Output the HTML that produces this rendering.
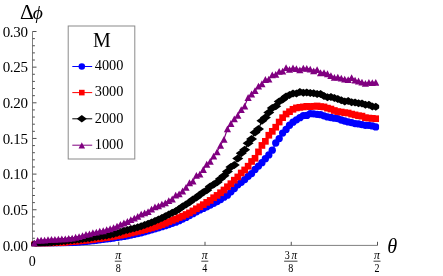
<!DOCTYPE html>
<html><head><meta charset="utf-8"><title>Chart</title>
<style>html,body{margin:0;padding:0;background:#fff;width:443px;height:276px;overflow:hidden;font-family:"Liberation Serif",serif}</style>
</head><body>
<svg width="443" height="276" viewBox="0 0 443 276" style="position:absolute;left:0;top:0;will-change:transform">
<rect width="443" height="276" fill="#fff"/>
<path d="M32.5 31.5V245.4H377.5" fill="none" stroke="#808080" stroke-width="1"/><path d="M32.5 245.40h4.0M32.5 238.27h2.4M32.5 231.14h2.4M32.5 224.01h2.4M32.5 216.88h2.4M32.5 209.75h4.0M32.5 202.62h2.4M32.5 195.49h2.4M32.5 188.36h2.4M32.5 181.23h2.4M32.5 174.10h4.0M32.5 166.97h2.4M32.5 159.84h2.4M32.5 152.71h2.4M32.5 145.58h2.4M32.5 138.45h4.0M32.5 131.32h2.4M32.5 124.19h2.4M32.5 117.06h2.4M32.5 109.93h2.4M32.5 102.80h4.0M32.5 95.67h2.4M32.5 88.54h2.4M32.5 81.41h2.4M32.5 74.28h2.4M32.5 67.15h4.0M32.5 60.02h2.4M32.5 52.89h2.4M32.5 45.76h2.4M32.5 38.63h2.4M32.5 31.50h4.0M118.75 245.4v-3.6M205.00 245.4v-3.6M291.25 245.4v-3.6M377.50 245.4v-3.6" fill="none" stroke="#505050" stroke-width="1"/>
<defs><clipPath id="pc"><rect x="31.3" y="20" width="347.9" height="226.3"/></clipPath></defs><g clip-path="url(#pc)"><g fill="#0000ff" stroke="none"><polyline points="34.23,244.95 37.67,244.68 41.12,244.45 44.58,244.16 48.02,244.01 51.48,243.80 54.92,243.62 58.38,243.40 61.83,243.23 65.28,243.00 68.72,242.74 72.17,242.57 75.62,242.31 79.08,242.07 82.53,241.71 85.97,241.38 89.42,241.04 92.88,240.64 96.33,240.33 99.78,239.82 103.22,239.37 106.67,238.93 110.12,238.52 113.58,237.99 117.03,237.46 120.47,236.96 123.92,236.44 127.38,235.79 130.82,235.08 134.28,234.34 137.72,233.58 141.18,232.78 144.62,231.76 148.07,230.83 151.53,229.82 154.97,228.73 158.43,227.74 161.88,226.69 165.32,225.71 168.78,224.54 172.22,223.28 175.68,222.14 179.12,220.72 182.57,219.08 186.03,217.41 189.47,215.56 192.93,213.65 196.38,211.86 199.82,209.90 203.28,208.38 206.72,206.83 210.18,205.12 213.62,203.35 217.07,201.49 220.53,199.62 223.97,197.21 227.43,195.16 230.88,191.78 234.32,188.58 237.78,184.77 241.22,182.33 244.68,179.58 248.12,176.31 251.57,173.54 255.03,169.38 258.48,166.06 261.93,162.63 265.38,158.65 268.82,154.92 272.27,150.17 275.73,143.02 279.18,138.61 282.62,133.04 286.07,129.43 289.52,125.26 292.98,122.21 296.43,119.78 299.88,117.64 303.32,115.60 306.77,115.39 310.23,113.72 313.68,113.87 317.12,114.34 320.57,114.68 324.02,115.84 327.48,116.95 330.93,117.51 334.38,118.21 337.82,118.55 341.27,120.00 344.73,121.00 348.18,121.89 351.62,122.55 355.07,123.60 358.52,123.94 361.98,124.62 365.43,125.34 368.88,125.37 372.32,125.93 375.77,126.97" fill="none" stroke="#0000ff" stroke-width="1.2"/><circle cx="34.23" cy="244.95" r="3.65"/><circle cx="37.67" cy="244.68" r="3.65"/><circle cx="41.12" cy="244.45" r="3.65"/><circle cx="44.58" cy="244.16" r="3.65"/><circle cx="48.02" cy="244.01" r="3.65"/><circle cx="51.48" cy="243.80" r="3.65"/><circle cx="54.92" cy="243.62" r="3.65"/><circle cx="58.38" cy="243.40" r="3.65"/><circle cx="61.83" cy="243.23" r="3.65"/><circle cx="65.28" cy="243.00" r="3.65"/><circle cx="68.72" cy="242.74" r="3.65"/><circle cx="72.17" cy="242.57" r="3.65"/><circle cx="75.62" cy="242.31" r="3.65"/><circle cx="79.08" cy="242.07" r="3.65"/><circle cx="82.53" cy="241.71" r="3.65"/><circle cx="85.97" cy="241.38" r="3.65"/><circle cx="89.42" cy="241.04" r="3.65"/><circle cx="92.88" cy="240.64" r="3.65"/><circle cx="96.33" cy="240.33" r="3.65"/><circle cx="99.78" cy="239.82" r="3.65"/><circle cx="103.22" cy="239.37" r="3.65"/><circle cx="106.67" cy="238.93" r="3.65"/><circle cx="110.12" cy="238.52" r="3.65"/><circle cx="113.58" cy="237.99" r="3.65"/><circle cx="117.03" cy="237.46" r="3.65"/><circle cx="120.47" cy="236.96" r="3.65"/><circle cx="123.92" cy="236.44" r="3.65"/><circle cx="127.38" cy="235.79" r="3.65"/><circle cx="130.82" cy="235.08" r="3.65"/><circle cx="134.28" cy="234.34" r="3.65"/><circle cx="137.72" cy="233.58" r="3.65"/><circle cx="141.18" cy="232.78" r="3.65"/><circle cx="144.62" cy="231.76" r="3.65"/><circle cx="148.07" cy="230.83" r="3.65"/><circle cx="151.53" cy="229.82" r="3.65"/><circle cx="154.97" cy="228.73" r="3.65"/><circle cx="158.43" cy="227.74" r="3.65"/><circle cx="161.88" cy="226.69" r="3.65"/><circle cx="165.32" cy="225.71" r="3.65"/><circle cx="168.78" cy="224.54" r="3.65"/><circle cx="172.22" cy="223.28" r="3.65"/><circle cx="175.68" cy="222.14" r="3.65"/><circle cx="179.12" cy="220.72" r="3.65"/><circle cx="182.57" cy="219.08" r="3.65"/><circle cx="186.03" cy="217.41" r="3.65"/><circle cx="189.47" cy="215.56" r="3.65"/><circle cx="192.93" cy="213.65" r="3.65"/><circle cx="196.38" cy="211.86" r="3.65"/><circle cx="199.82" cy="209.90" r="3.65"/><circle cx="203.28" cy="208.38" r="3.65"/><circle cx="206.72" cy="206.83" r="3.65"/><circle cx="210.18" cy="205.12" r="3.65"/><circle cx="213.62" cy="203.35" r="3.65"/><circle cx="217.07" cy="201.49" r="3.65"/><circle cx="220.53" cy="199.62" r="3.65"/><circle cx="223.97" cy="197.21" r="3.65"/><circle cx="227.43" cy="195.16" r="3.65"/><circle cx="230.88" cy="191.78" r="3.65"/><circle cx="234.32" cy="188.58" r="3.65"/><circle cx="237.78" cy="184.77" r="3.65"/><circle cx="241.22" cy="182.33" r="3.65"/><circle cx="244.68" cy="179.58" r="3.65"/><circle cx="248.12" cy="176.31" r="3.65"/><circle cx="251.57" cy="173.54" r="3.65"/><circle cx="255.03" cy="169.38" r="3.65"/><circle cx="258.48" cy="166.06" r="3.65"/><circle cx="261.93" cy="162.63" r="3.65"/><circle cx="265.38" cy="158.65" r="3.65"/><circle cx="268.82" cy="154.92" r="3.65"/><circle cx="272.27" cy="150.17" r="3.65"/><circle cx="275.73" cy="143.02" r="3.65"/><circle cx="279.18" cy="138.61" r="3.65"/><circle cx="282.62" cy="133.04" r="3.65"/><circle cx="286.07" cy="129.43" r="3.65"/><circle cx="289.52" cy="125.26" r="3.65"/><circle cx="292.98" cy="122.21" r="3.65"/><circle cx="296.43" cy="119.78" r="3.65"/><circle cx="299.88" cy="117.64" r="3.65"/><circle cx="303.32" cy="115.60" r="3.65"/><circle cx="306.77" cy="115.39" r="3.65"/><circle cx="310.23" cy="113.72" r="3.65"/><circle cx="313.68" cy="113.87" r="3.65"/><circle cx="317.12" cy="114.34" r="3.65"/><circle cx="320.57" cy="114.68" r="3.65"/><circle cx="324.02" cy="115.84" r="3.65"/><circle cx="327.48" cy="116.95" r="3.65"/><circle cx="330.93" cy="117.51" r="3.65"/><circle cx="334.38" cy="118.21" r="3.65"/><circle cx="337.82" cy="118.55" r="3.65"/><circle cx="341.27" cy="120.00" r="3.65"/><circle cx="344.73" cy="121.00" r="3.65"/><circle cx="348.18" cy="121.89" r="3.65"/><circle cx="351.62" cy="122.55" r="3.65"/><circle cx="355.07" cy="123.60" r="3.65"/><circle cx="358.52" cy="123.94" r="3.65"/><circle cx="361.98" cy="124.62" r="3.65"/><circle cx="365.43" cy="125.34" r="3.65"/><circle cx="368.88" cy="125.37" r="3.65"/><circle cx="372.32" cy="125.93" r="3.65"/><circle cx="375.77" cy="126.97" r="3.65"/></g><g fill="#ff0000" stroke="none"><polyline points="34.23,244.78 37.67,244.39 41.12,244.13 44.58,243.86 48.02,243.60 51.48,243.28 54.92,242.99 58.38,242.72 61.83,242.50 65.28,242.21 68.72,241.89 72.17,241.60 75.62,241.27 79.08,240.99 82.53,240.59 85.97,240.27 89.42,239.90 92.88,239.47 96.33,238.98 99.78,238.59 103.22,238.02 106.67,237.54 110.12,236.96 113.58,236.37 117.03,235.85 120.47,235.23 123.92,234.55 127.38,233.85 130.82,233.03 134.28,232.20 137.72,231.36 141.18,230.58 144.62,229.70 148.07,228.79 151.53,227.93 154.97,226.90 158.43,225.79 161.88,224.63 165.32,223.24 168.78,221.78 172.22,220.38 175.68,218.99 179.12,217.55 182.57,216.18 186.03,214.51 189.47,212.89 192.93,210.91 196.38,208.78 199.82,206.80 203.28,204.68 206.72,202.38 210.18,200.43 213.62,197.71 217.07,195.40 220.53,192.72 223.97,189.98 227.43,186.74 230.88,183.69 234.32,180.18 237.78,176.94 241.22,172.99 244.68,169.94 248.12,166.21 251.57,161.46 255.03,158.29 258.48,151.89 261.93,145.44 265.38,141.33 268.82,135.23 272.27,131.35 275.73,127.21 279.18,122.04 282.62,117.66 286.07,114.02 289.52,111.68 292.98,109.30 296.43,107.90 299.88,107.31 303.32,106.91 306.77,106.35 310.23,106.62 313.68,106.31 317.12,105.99 320.57,106.63 324.02,106.92 327.48,108.13 330.93,109.06 334.38,110.51 337.82,111.61 341.27,112.03 344.73,112.70 348.18,113.03 351.62,114.09 355.07,114.90 358.52,115.72 361.98,116.13 365.43,117.69 368.88,118.11 372.32,118.34 375.77,118.72" fill="none" stroke="#ff0000" stroke-width="1.2"/><rect x="30.88" y="241.43" width="6.7" height="6.7"/><rect x="34.32" y="241.04" width="6.7" height="6.7"/><rect x="37.77" y="240.78" width="6.7" height="6.7"/><rect x="41.23" y="240.51" width="6.7" height="6.7"/><rect x="44.67" y="240.25" width="6.7" height="6.7"/><rect x="48.12" y="239.93" width="6.7" height="6.7"/><rect x="51.57" y="239.64" width="6.7" height="6.7"/><rect x="55.02" y="239.37" width="6.7" height="6.7"/><rect x="58.48" y="239.15" width="6.7" height="6.7"/><rect x="61.93" y="238.86" width="6.7" height="6.7"/><rect x="65.38" y="238.54" width="6.7" height="6.7"/><rect x="68.83" y="238.25" width="6.7" height="6.7"/><rect x="72.28" y="237.92" width="6.7" height="6.7"/><rect x="75.73" y="237.64" width="6.7" height="6.7"/><rect x="79.18" y="237.24" width="6.7" height="6.7"/><rect x="82.62" y="236.92" width="6.7" height="6.7"/><rect x="86.08" y="236.55" width="6.7" height="6.7"/><rect x="89.53" y="236.12" width="6.7" height="6.7"/><rect x="92.98" y="235.63" width="6.7" height="6.7"/><rect x="96.43" y="235.24" width="6.7" height="6.7"/><rect x="99.88" y="234.67" width="6.7" height="6.7"/><rect x="103.33" y="234.19" width="6.7" height="6.7"/><rect x="106.78" y="233.61" width="6.7" height="6.7"/><rect x="110.23" y="233.02" width="6.7" height="6.7"/><rect x="113.68" y="232.50" width="6.7" height="6.7"/><rect x="117.12" y="231.88" width="6.7" height="6.7"/><rect x="120.58" y="231.20" width="6.7" height="6.7"/><rect x="124.03" y="230.50" width="6.7" height="6.7"/><rect x="127.47" y="229.68" width="6.7" height="6.7"/><rect x="130.93" y="228.85" width="6.7" height="6.7"/><rect x="134.38" y="228.01" width="6.7" height="6.7"/><rect x="137.83" y="227.23" width="6.7" height="6.7"/><rect x="141.28" y="226.35" width="6.7" height="6.7"/><rect x="144.72" y="225.44" width="6.7" height="6.7"/><rect x="148.18" y="224.58" width="6.7" height="6.7"/><rect x="151.62" y="223.55" width="6.7" height="6.7"/><rect x="155.08" y="222.44" width="6.7" height="6.7"/><rect x="158.53" y="221.28" width="6.7" height="6.7"/><rect x="161.97" y="219.89" width="6.7" height="6.7"/><rect x="165.43" y="218.43" width="6.7" height="6.7"/><rect x="168.88" y="217.03" width="6.7" height="6.7"/><rect x="172.33" y="215.64" width="6.7" height="6.7"/><rect x="175.78" y="214.20" width="6.7" height="6.7"/><rect x="179.22" y="212.83" width="6.7" height="6.7"/><rect x="182.68" y="211.16" width="6.7" height="6.7"/><rect x="186.12" y="209.54" width="6.7" height="6.7"/><rect x="189.58" y="207.56" width="6.7" height="6.7"/><rect x="193.03" y="205.43" width="6.7" height="6.7"/><rect x="196.47" y="203.45" width="6.7" height="6.7"/><rect x="199.93" y="201.33" width="6.7" height="6.7"/><rect x="203.38" y="199.03" width="6.7" height="6.7"/><rect x="206.83" y="197.08" width="6.7" height="6.7"/><rect x="210.28" y="194.36" width="6.7" height="6.7"/><rect x="213.72" y="192.05" width="6.7" height="6.7"/><rect x="217.18" y="189.37" width="6.7" height="6.7"/><rect x="220.62" y="186.63" width="6.7" height="6.7"/><rect x="224.08" y="183.39" width="6.7" height="6.7"/><rect x="227.53" y="180.34" width="6.7" height="6.7"/><rect x="230.97" y="176.83" width="6.7" height="6.7"/><rect x="234.43" y="173.59" width="6.7" height="6.7"/><rect x="237.88" y="169.64" width="6.7" height="6.7"/><rect x="241.33" y="166.59" width="6.7" height="6.7"/><rect x="244.78" y="162.86" width="6.7" height="6.7"/><rect x="248.22" y="158.11" width="6.7" height="6.7"/><rect x="251.68" y="154.94" width="6.7" height="6.7"/><rect x="255.13" y="148.54" width="6.7" height="6.7"/><rect x="258.57" y="142.09" width="6.7" height="6.7"/><rect x="262.02" y="137.98" width="6.7" height="6.7"/><rect x="265.47" y="131.88" width="6.7" height="6.7"/><rect x="268.92" y="128.00" width="6.7" height="6.7"/><rect x="272.38" y="123.86" width="6.7" height="6.7"/><rect x="275.82" y="118.69" width="6.7" height="6.7"/><rect x="279.27" y="114.31" width="6.7" height="6.7"/><rect x="282.72" y="110.67" width="6.7" height="6.7"/><rect x="286.17" y="108.33" width="6.7" height="6.7"/><rect x="289.62" y="105.95" width="6.7" height="6.7"/><rect x="293.07" y="104.55" width="6.7" height="6.7"/><rect x="296.52" y="103.96" width="6.7" height="6.7"/><rect x="299.97" y="103.56" width="6.7" height="6.7"/><rect x="303.42" y="103.00" width="6.7" height="6.7"/><rect x="306.88" y="103.27" width="6.7" height="6.7"/><rect x="310.32" y="102.96" width="6.7" height="6.7"/><rect x="313.77" y="102.64" width="6.7" height="6.7"/><rect x="317.22" y="103.28" width="6.7" height="6.7"/><rect x="320.67" y="103.57" width="6.7" height="6.7"/><rect x="324.12" y="104.78" width="6.7" height="6.7"/><rect x="327.57" y="105.71" width="6.7" height="6.7"/><rect x="331.02" y="107.16" width="6.7" height="6.7"/><rect x="334.47" y="108.26" width="6.7" height="6.7"/><rect x="337.92" y="108.68" width="6.7" height="6.7"/><rect x="341.38" y="109.35" width="6.7" height="6.7"/><rect x="344.82" y="109.68" width="6.7" height="6.7"/><rect x="348.27" y="110.74" width="6.7" height="6.7"/><rect x="351.72" y="111.55" width="6.7" height="6.7"/><rect x="355.17" y="112.37" width="6.7" height="6.7"/><rect x="358.62" y="112.78" width="6.7" height="6.7"/><rect x="362.07" y="114.34" width="6.7" height="6.7"/><rect x="365.52" y="114.76" width="6.7" height="6.7"/><rect x="368.97" y="114.99" width="6.7" height="6.7"/><rect x="372.42" y="115.37" width="6.7" height="6.7"/></g><g fill="#000000" stroke="none"><polyline points="34.23,244.35 37.67,243.91 41.12,243.46 44.58,243.07 48.02,242.71 51.48,242.39 54.92,242.05 58.38,241.66 61.83,241.36 65.28,240.98 68.72,240.61 72.17,240.36 75.62,239.83 79.08,239.55 82.53,238.99 85.97,238.57 89.42,238.14 92.88,237.59 96.33,237.11 99.78,236.56 103.22,235.99 106.67,235.40 110.12,234.71 113.58,234.06 117.03,233.02 120.47,232.09 123.92,230.82 127.38,230.01 130.82,229.12 134.28,228.16 137.72,227.27 141.18,226.16 144.62,224.91 148.07,223.69 151.53,222.53 154.97,220.92 158.43,219.47 161.88,217.89 165.32,216.35 168.78,214.52 172.22,212.84 175.68,211.34 179.12,208.97 182.57,206.62 186.03,204.46 189.47,202.32 192.93,199.56 196.38,197.55 199.82,194.84 203.28,192.20 206.72,190.32 210.18,186.57 213.62,184.60 217.07,182.25 220.53,178.83 223.97,175.79 227.43,171.44 230.88,167.03 234.32,165.04 237.78,158.38 241.22,153.15 244.68,149.69 248.12,143.26 251.57,138.99 255.03,132.42 258.48,129.07 261.93,120.79 265.38,117.58 268.82,112.43 272.27,108.01 275.73,106.29 279.18,101.49 282.62,99.38 286.07,96.55 289.52,95.11 292.98,93.56 296.43,93.40 299.88,91.88 303.32,92.73 306.77,92.42 310.23,92.90 313.68,93.14 317.12,93.95 320.57,94.01 324.02,96.07 327.48,97.16 330.93,96.92 334.38,97.95 337.82,99.02 341.27,100.37 344.73,101.58 348.18,101.07 351.62,102.14 355.07,102.61 358.52,103.13 361.98,103.38 365.43,104.77 368.88,104.63 372.32,106.48 375.77,106.78" fill="none" stroke="#000000" stroke-width="1.2"/><path d="M28.73 244.35L34.23 240.35L39.73 244.35L34.23 248.35Z"/><path d="M32.17 243.91L37.67 239.91L43.17 243.91L37.67 247.91Z"/><path d="M35.62 243.46L41.12 239.46L46.62 243.46L41.12 247.46Z"/><path d="M39.08 243.07L44.58 239.07L50.08 243.07L44.58 247.07Z"/><path d="M42.52 242.71L48.02 238.71L53.52 242.71L48.02 246.71Z"/><path d="M45.98 242.39L51.48 238.39L56.98 242.39L51.48 246.39Z"/><path d="M49.42 242.05L54.92 238.05L60.42 242.05L54.92 246.05Z"/><path d="M52.88 241.66L58.38 237.66L63.88 241.66L58.38 245.66Z"/><path d="M56.33 241.36L61.83 237.36L67.33 241.36L61.83 245.36Z"/><path d="M59.78 240.98L65.28 236.98L70.78 240.98L65.28 244.98Z"/><path d="M63.22 240.61L68.72 236.61L74.22 240.61L68.72 244.61Z"/><path d="M66.67 240.36L72.17 236.36L77.67 240.36L72.17 244.36Z"/><path d="M70.12 239.83L75.62 235.83L81.12 239.83L75.62 243.83Z"/><path d="M73.58 239.55L79.08 235.55L84.58 239.55L79.08 243.55Z"/><path d="M77.03 238.99L82.53 234.99L88.03 238.99L82.53 242.99Z"/><path d="M80.47 238.57L85.97 234.57L91.47 238.57L85.97 242.57Z"/><path d="M83.92 238.14L89.42 234.14L94.92 238.14L89.42 242.14Z"/><path d="M87.38 237.59L92.88 233.59L98.38 237.59L92.88 241.59Z"/><path d="M90.83 237.11L96.33 233.11L101.83 237.11L96.33 241.11Z"/><path d="M94.28 236.56L99.78 232.56L105.28 236.56L99.78 240.56Z"/><path d="M97.72 235.99L103.22 231.99L108.72 235.99L103.22 239.99Z"/><path d="M101.17 235.40L106.67 231.40L112.17 235.40L106.67 239.40Z"/><path d="M104.62 234.71L110.12 230.71L115.62 234.71L110.12 238.71Z"/><path d="M108.08 234.06L113.58 230.06L119.08 234.06L113.58 238.06Z"/><path d="M111.53 233.02L117.03 229.02L122.53 233.02L117.03 237.02Z"/><path d="M114.97 232.09L120.47 228.09L125.97 232.09L120.47 236.09Z"/><path d="M118.42 230.82L123.92 226.82L129.43 230.82L123.92 234.82Z"/><path d="M121.88 230.01L127.38 226.01L132.88 230.01L127.38 234.01Z"/><path d="M125.32 229.12L130.82 225.12L136.32 229.12L130.82 233.12Z"/><path d="M128.78 228.16L134.28 224.16L139.78 228.16L134.28 232.16Z"/><path d="M132.22 227.27L137.72 223.27L143.22 227.27L137.72 231.27Z"/><path d="M135.68 226.16L141.18 222.16L146.68 226.16L141.18 230.16Z"/><path d="M139.12 224.91L144.62 220.91L150.12 224.91L144.62 228.91Z"/><path d="M142.57 223.69L148.07 219.69L153.57 223.69L148.07 227.69Z"/><path d="M146.03 222.53L151.53 218.53L157.03 222.53L151.53 226.53Z"/><path d="M149.47 220.92L154.97 216.92L160.47 220.92L154.97 224.92Z"/><path d="M152.93 219.47L158.43 215.47L163.93 219.47L158.43 223.47Z"/><path d="M156.38 217.89L161.88 213.89L167.38 217.89L161.88 221.89Z"/><path d="M159.82 216.35L165.32 212.35L170.82 216.35L165.32 220.35Z"/><path d="M163.28 214.52L168.78 210.52L174.28 214.52L168.78 218.52Z"/><path d="M166.72 212.84L172.22 208.84L177.72 212.84L172.22 216.84Z"/><path d="M170.18 211.34L175.68 207.34L181.18 211.34L175.68 215.34Z"/><path d="M173.62 208.97L179.12 204.97L184.62 208.97L179.12 212.97Z"/><path d="M177.07 206.62L182.57 202.62L188.07 206.62L182.57 210.62Z"/><path d="M180.53 204.46L186.03 200.46L191.53 204.46L186.03 208.46Z"/><path d="M183.97 202.32L189.47 198.32L194.97 202.32L189.47 206.32Z"/><path d="M187.43 199.56L192.93 195.56L198.43 199.56L192.93 203.56Z"/><path d="M190.88 197.55L196.38 193.55L201.88 197.55L196.38 201.55Z"/><path d="M194.32 194.84L199.82 190.84L205.32 194.84L199.82 198.84Z"/><path d="M197.78 192.20L203.28 188.20L208.78 192.20L203.28 196.20Z"/><path d="M201.22 190.32L206.72 186.32L212.22 190.32L206.72 194.32Z"/><path d="M204.68 186.57L210.18 182.57L215.68 186.57L210.18 190.57Z"/><path d="M208.12 184.60L213.62 180.60L219.12 184.60L213.62 188.60Z"/><path d="M211.57 182.25L217.07 178.25L222.57 182.25L217.07 186.25Z"/><path d="M215.03 178.83L220.53 174.83L226.03 178.83L220.53 182.83Z"/><path d="M218.47 175.79L223.97 171.79L229.47 175.79L223.97 179.79Z"/><path d="M221.93 171.44L227.43 167.44L232.93 171.44L227.43 175.44Z"/><path d="M225.38 167.03L230.88 163.03L236.38 167.03L230.88 171.03Z"/><path d="M228.82 165.04L234.32 161.04L239.82 165.04L234.32 169.04Z"/><path d="M232.28 158.38L237.78 154.38L243.28 158.38L237.78 162.38Z"/><path d="M235.72 153.15L241.22 149.15L246.72 153.15L241.22 157.15Z"/><path d="M239.18 149.69L244.68 145.69L250.18 149.69L244.68 153.69Z"/><path d="M242.62 143.26L248.12 139.26L253.62 143.26L248.12 147.26Z"/><path d="M246.07 138.99L251.57 134.99L257.07 138.99L251.57 142.99Z"/><path d="M249.53 132.42L255.03 128.42L260.52 132.42L255.03 136.42Z"/><path d="M252.98 129.07L258.48 125.07L263.98 129.07L258.48 133.07Z"/><path d="M256.43 120.79L261.93 116.79L267.43 120.79L261.93 124.79Z"/><path d="M259.88 117.58L265.38 113.58L270.88 117.58L265.38 121.58Z"/><path d="M263.32 112.43L268.82 108.43L274.32 112.43L268.82 116.43Z"/><path d="M266.77 108.01L272.27 104.01L277.77 108.01L272.27 112.01Z"/><path d="M270.23 106.29L275.73 102.29L281.23 106.29L275.73 110.29Z"/><path d="M273.68 101.49L279.18 97.49L284.68 101.49L279.18 105.49Z"/><path d="M277.12 99.38L282.62 95.38L288.12 99.38L282.62 103.38Z"/><path d="M280.57 96.55L286.07 92.55L291.57 96.55L286.07 100.55Z"/><path d="M284.02 95.11L289.52 91.11L295.02 95.11L289.52 99.11Z"/><path d="M287.48 93.56L292.98 89.56L298.48 93.56L292.98 97.56Z"/><path d="M290.93 93.40L296.43 89.40L301.93 93.40L296.43 97.40Z"/><path d="M294.38 91.88L299.88 87.88L305.38 91.88L299.88 95.88Z"/><path d="M297.82 92.73L303.32 88.73L308.82 92.73L303.32 96.73Z"/><path d="M301.27 92.42L306.77 88.42L312.27 92.42L306.77 96.42Z"/><path d="M304.73 92.90L310.23 88.90L315.73 92.90L310.23 96.90Z"/><path d="M308.18 93.14L313.68 89.14L319.18 93.14L313.68 97.14Z"/><path d="M311.62 93.95L317.12 89.95L322.62 93.95L317.12 97.95Z"/><path d="M315.07 94.01L320.57 90.01L326.07 94.01L320.57 98.01Z"/><path d="M318.52 96.07L324.02 92.07L329.52 96.07L324.02 100.07Z"/><path d="M321.98 97.16L327.48 93.16L332.98 97.16L327.48 101.16Z"/><path d="M325.43 96.92L330.93 92.92L336.43 96.92L330.93 100.92Z"/><path d="M328.88 97.95L334.38 93.95L339.88 97.95L334.38 101.95Z"/><path d="M332.32 99.02L337.82 95.02L343.32 99.02L337.82 103.02Z"/><path d="M335.77 100.37L341.27 96.37L346.77 100.37L341.27 104.37Z"/><path d="M339.23 101.58L344.73 97.58L350.23 101.58L344.73 105.58Z"/><path d="M342.68 101.07L348.18 97.07L353.68 101.07L348.18 105.07Z"/><path d="M346.12 102.14L351.62 98.14L357.12 102.14L351.62 106.14Z"/><path d="M349.57 102.61L355.07 98.61L360.57 102.61L355.07 106.61Z"/><path d="M353.02 103.13L358.52 99.13L364.02 103.13L358.52 107.13Z"/><path d="M356.48 103.38L361.98 99.38L367.48 103.38L361.98 107.38Z"/><path d="M359.93 104.77L365.43 100.77L370.93 104.77L365.43 108.77Z"/><path d="M363.38 104.63L368.88 100.63L374.38 104.63L368.88 108.63Z"/><path d="M366.82 106.48L372.32 102.48L377.82 106.48L372.32 110.48Z"/><path d="M370.27 106.78L375.77 102.78L381.27 106.78L375.77 110.78Z"/></g><g fill="#800080" stroke="none"><polyline points="34.23,242.98 37.67,240.33 41.12,239.97 44.58,240.00 48.02,239.49 51.48,239.22 54.92,239.21 58.38,239.09 61.83,238.77 65.28,238.81 68.72,238.35 72.17,237.97 75.62,237.17 79.08,236.44 82.53,235.49 85.97,234.28 89.42,233.68 92.88,232.60 96.33,232.02 99.78,231.05 103.22,230.64 106.67,229.56 110.12,228.66 113.58,227.58 117.03,225.97 120.47,224.30 123.92,222.88 127.38,221.40 130.82,219.54 134.28,217.97 137.72,216.30 141.18,214.01 144.62,212.71 148.07,211.43 151.53,209.02 154.97,206.87 158.43,205.74 161.88,204.11 165.32,202.82 168.78,200.60 172.22,198.90 175.68,194.99 179.12,193.77 182.57,190.88 186.03,187.25 189.47,182.63 192.93,181.07 196.38,175.18 199.82,174.11 203.28,169.39 206.72,164.13 210.18,161.25 213.62,156.08 217.07,151.79 220.53,145.20 223.97,139.24 227.43,128.70 230.88,123.38 234.32,118.85 237.78,115.34 241.22,109.61 244.68,106.01 248.12,97.38 251.57,93.89 255.03,90.48 258.48,86.06 261.93,83.63 265.38,79.39 268.82,79.01 272.27,74.80 275.73,74.32 279.18,71.25 282.62,71.08 286.07,67.62 289.52,69.19 292.98,67.90 296.43,68.45 299.88,69.86 303.32,68.02 306.77,68.26 310.23,69.06 313.68,70.85 317.12,69.54 320.57,72.67 324.02,72.47 327.48,73.67 330.93,75.50 334.38,77.25 337.82,77.12 341.27,77.97 344.73,79.08 348.18,79.43 351.62,77.51 355.07,80.12 358.52,80.88 361.98,82.10 365.43,83.29 368.88,82.29 372.32,82.46 375.77,82.26" fill="none" stroke="#800080" stroke-width="1.2"/><path d="M30.62 246.48L34.23 239.68L37.83 246.48Z"/><path d="M34.07 243.83L37.67 237.03L41.27 243.83Z"/><path d="M37.52 243.47L41.12 236.67L44.73 243.47Z"/><path d="M40.98 243.50L44.58 236.70L48.18 243.50Z"/><path d="M44.42 242.99L48.02 236.19L51.62 242.99Z"/><path d="M47.88 242.72L51.48 235.92L55.08 242.72Z"/><path d="M51.32 242.71L54.92 235.91L58.52 242.71Z"/><path d="M54.77 242.59L58.38 235.79L61.98 242.59Z"/><path d="M58.23 242.27L61.83 235.47L65.42 242.27Z"/><path d="M61.68 242.31L65.28 235.51L68.88 242.31Z"/><path d="M65.12 241.85L68.72 235.05L72.32 241.85Z"/><path d="M68.58 241.47L72.17 234.67L75.77 241.47Z"/><path d="M72.03 240.67L75.62 233.87L79.22 240.67Z"/><path d="M75.48 239.94L79.08 233.14L82.67 239.94Z"/><path d="M78.93 238.99L82.53 232.19L86.12 238.99Z"/><path d="M82.38 237.78L85.97 230.98L89.57 237.78Z"/><path d="M85.83 237.18L89.42 230.38L93.02 237.18Z"/><path d="M89.28 236.10L92.88 229.30L96.47 236.10Z"/><path d="M92.73 235.52L96.33 228.72L99.92 235.52Z"/><path d="M96.18 234.55L99.78 227.75L103.38 234.55Z"/><path d="M99.62 234.14L103.22 227.34L106.82 234.14Z"/><path d="M103.08 233.06L106.67 226.26L110.27 233.06Z"/><path d="M106.53 232.16L110.12 225.36L113.72 232.16Z"/><path d="M109.98 231.08L113.58 224.28L117.17 231.08Z"/><path d="M113.43 229.47L117.03 222.67L120.62 229.47Z"/><path d="M116.88 227.80L120.47 221.00L124.07 227.80Z"/><path d="M120.33 226.38L123.92 219.58L127.52 226.38Z"/><path d="M123.78 224.90L127.38 218.10L130.97 224.90Z"/><path d="M127.22 223.04L130.82 216.24L134.42 223.04Z"/><path d="M130.68 221.47L134.28 214.67L137.88 221.47Z"/><path d="M134.12 219.80L137.72 213.00L141.32 219.80Z"/><path d="M137.58 217.51L141.18 210.71L144.78 217.51Z"/><path d="M141.03 216.21L144.62 209.41L148.22 216.21Z"/><path d="M144.47 214.93L148.07 208.13L151.67 214.93Z"/><path d="M147.93 212.52L151.53 205.72L155.12 212.52Z"/><path d="M151.38 210.37L154.97 203.57L158.57 210.37Z"/><path d="M154.83 209.24L158.43 202.44L162.03 209.24Z"/><path d="M158.28 207.61L161.88 200.81L165.47 207.61Z"/><path d="M161.72 206.32L165.32 199.52L168.92 206.32Z"/><path d="M165.18 204.10L168.78 197.30L172.38 204.10Z"/><path d="M168.62 202.40L172.22 195.60L175.82 202.40Z"/><path d="M172.08 198.49L175.68 191.69L179.28 198.49Z"/><path d="M175.53 197.27L179.12 190.47L182.72 197.27Z"/><path d="M178.97 194.38L182.57 187.58L186.17 194.38Z"/><path d="M182.43 190.75L186.03 183.95L189.62 190.75Z"/><path d="M185.88 186.13L189.47 179.33L193.07 186.13Z"/><path d="M189.33 184.57L192.93 177.77L196.53 184.57Z"/><path d="M192.78 178.68L196.38 171.88L199.97 178.68Z"/><path d="M196.22 177.61L199.82 170.81L203.42 177.61Z"/><path d="M199.68 172.89L203.28 166.09L206.88 172.89Z"/><path d="M203.12 167.63L206.72 160.83L210.32 167.63Z"/><path d="M206.58 164.75L210.18 157.95L213.78 164.75Z"/><path d="M210.03 159.58L213.62 152.78L217.22 159.58Z"/><path d="M213.47 155.29L217.07 148.49L220.67 155.29Z"/><path d="M216.93 148.70L220.53 141.90L224.12 148.70Z"/><path d="M220.38 142.74L223.97 135.94L227.57 142.74Z"/><path d="M223.83 132.20L227.43 125.40L231.03 132.20Z"/><path d="M227.28 126.88L230.88 120.08L234.47 126.88Z"/><path d="M230.72 122.35L234.32 115.55L237.92 122.35Z"/><path d="M234.18 118.84L237.78 112.04L241.38 118.84Z"/><path d="M237.62 113.11L241.22 106.31L244.82 113.11Z"/><path d="M241.08 109.51L244.68 102.71L248.28 109.51Z"/><path d="M244.53 100.88L248.12 94.08L251.72 100.88Z"/><path d="M247.97 97.39L251.57 90.59L255.17 97.39Z"/><path d="M251.43 93.98L255.03 87.18L258.62 93.98Z"/><path d="M254.88 89.56L258.48 82.76L262.08 89.56Z"/><path d="M258.32 87.13L261.93 80.33L265.53 87.13Z"/><path d="M261.77 82.89L265.38 76.09L268.98 82.89Z"/><path d="M265.22 82.51L268.82 75.71L272.43 82.51Z"/><path d="M268.67 78.30L272.27 71.50L275.88 78.30Z"/><path d="M272.12 77.82L275.73 71.02L279.33 77.82Z"/><path d="M275.57 74.75L279.18 67.95L282.78 74.75Z"/><path d="M279.02 74.58L282.62 67.78L286.23 74.58Z"/><path d="M282.47 71.12L286.07 64.32L289.68 71.12Z"/><path d="M285.92 72.69L289.52 65.89L293.12 72.69Z"/><path d="M289.38 71.40L292.98 64.60L296.58 71.40Z"/><path d="M292.82 71.95L296.43 65.15L300.03 71.95Z"/><path d="M296.27 73.36L299.88 66.56L303.48 73.36Z"/><path d="M299.72 71.52L303.32 64.72L306.93 71.52Z"/><path d="M303.17 71.76L306.77 64.96L310.38 71.76Z"/><path d="M306.62 72.56L310.23 65.76L313.83 72.56Z"/><path d="M310.07 74.35L313.68 67.55L317.28 74.35Z"/><path d="M313.52 73.04L317.12 66.24L320.73 73.04Z"/><path d="M316.97 76.17L320.57 69.37L324.18 76.17Z"/><path d="M320.42 75.97L324.02 69.17L327.62 75.97Z"/><path d="M323.88 77.17L327.48 70.37L331.08 77.17Z"/><path d="M327.32 79.00L330.93 72.20L334.53 79.00Z"/><path d="M330.77 80.75L334.38 73.95L337.98 80.75Z"/><path d="M334.22 80.62L337.82 73.82L341.43 80.62Z"/><path d="M337.67 81.47L341.27 74.67L344.88 81.47Z"/><path d="M341.12 82.58L344.73 75.78L348.33 82.58Z"/><path d="M344.57 82.93L348.18 76.13L351.78 82.93Z"/><path d="M348.02 81.01L351.62 74.21L355.23 81.01Z"/><path d="M351.47 83.62L355.07 76.82L358.68 83.62Z"/><path d="M354.92 84.38L358.52 77.58L362.12 84.38Z"/><path d="M358.38 85.60L361.98 78.80L365.58 85.60Z"/><path d="M361.82 86.79L365.43 79.99L369.03 86.79Z"/><path d="M365.27 85.79L368.88 78.99L372.48 85.79Z"/><path d="M368.72 85.96L372.32 79.16L375.93 85.96Z"/><path d="M372.17 85.76L375.77 78.96L379.38 85.76Z"/></g></g>
<rect x="68.2" y="26" width="66.6" height="133" fill="#fff" stroke="#8a8a8a" stroke-width="1"/><text x="101.8" y="46.6" text-anchor="middle" font-size="20" font-family="Liberation Serif, serif">M</text><g fill="#0000ff"><path d="M72.3 66.5H92.2" stroke="#0000ff" stroke-width="1"/><circle cx="81.80" cy="66.50" r="3.25"/></g><text x="94.8" y="69.70" font-size="14.3" font-family="Liberation Serif, serif">4000</text><g fill="#ff0000"><path d="M72.3 92.6H92.2" stroke="#ff0000" stroke-width="1"/><rect x="79.00" y="89.80" width="5.6" height="5.6"/></g><text x="94.8" y="96.20" font-size="14.3" font-family="Liberation Serif, serif">3000</text><g fill="#000000"><path d="M72.3 118.8H92.2" stroke="#000000" stroke-width="1"/><path d="M76.80 118.80L81.80 115.10L86.80 118.80L81.80 122.50Z"/></g><text x="94.8" y="122.50" font-size="14.3" font-family="Liberation Serif, serif">2000</text><g fill="#800080"><path d="M72.3 145.2H92.2" stroke="#800080" stroke-width="1"/><path d="M78.55 148.50L81.80 142.30L85.05 148.50Z"/></g><text x="94.8" y="149.00" font-size="14.3" font-family="Liberation Serif, serif">1000</text>
<text x="27.7" y="250.60" text-anchor="end" font-size="15" letter-spacing="-0.3" font-family="Liberation Serif, serif">0.00</text><text x="27.7" y="214.95" text-anchor="end" font-size="15" letter-spacing="-0.3" font-family="Liberation Serif, serif">0.05</text><text x="27.7" y="179.30" text-anchor="end" font-size="15" letter-spacing="-0.3" font-family="Liberation Serif, serif">0.10</text><text x="27.7" y="143.65" text-anchor="end" font-size="15" letter-spacing="-0.3" font-family="Liberation Serif, serif">0.15</text><text x="27.7" y="108.00" text-anchor="end" font-size="15" letter-spacing="-0.3" font-family="Liberation Serif, serif">0.20</text><text x="27.7" y="72.35" text-anchor="end" font-size="15" letter-spacing="-0.3" font-family="Liberation Serif, serif">0.25</text><text x="27.7" y="36.70" text-anchor="end" font-size="15" letter-spacing="-0.3" font-family="Liberation Serif, serif">0.30</text><text x="32.3" y="266.2" text-anchor="middle" font-size="14" font-family="Liberation Serif, serif">0</text><text transform="translate(19.9,19.1) scale(1.08,1)" font-size="20" font-family="Liberation Serif, serif">Δ</text><text x="32.7" y="19.3" font-size="19.5" font-style="italic" font-family="Liberation Serif, serif">ϕ</text><text x="387.3" y="253.0" font-size="20.3" font-style="italic" font-family="Liberation Serif, serif">θ</text><text transform="translate(118.3,259.2) scale(0.88,1)" text-anchor="middle" font-size="13.5" font-family="Liberation Serif, serif" font-style="italic">π</text><path d="M114.80 261.2H121.80" stroke="#2a2a2a" stroke-width="0.9"/><text transform="translate(118.3,272.2) scale(0.86,1)" text-anchor="middle" font-size="11.7" font-family="Liberation Serif, serif" >8</text><text transform="translate(204.8,259.2) scale(0.88,1)" text-anchor="middle" font-size="13.5" font-family="Liberation Serif, serif" font-style="italic">π</text><path d="M201.30 261.2H208.30" stroke="#2a2a2a" stroke-width="0.9"/><text transform="translate(204.8,272.2) scale(0.86,1)" text-anchor="middle" font-size="11.7" font-family="Liberation Serif, serif" >4</text><text transform="translate(284.8,259.2) scale(0.86,1)" text-anchor="start" font-size="11.7" font-family="Liberation Serif, serif" >3</text><text transform="translate(294.40000000000003,259.2) scale(0.86,1)" text-anchor="middle" font-size="13.0" font-family="Liberation Serif, serif" font-style="italic">π</text><path d="M284.10 261.2H297.50" stroke="#2a2a2a" stroke-width="0.9"/><text transform="translate(290.8,272.2) scale(0.86,1)" text-anchor="middle" font-size="11.7" font-family="Liberation Serif, serif" >8</text><text transform="translate(377.0,259.2) scale(0.88,1)" text-anchor="middle" font-size="13.5" font-family="Liberation Serif, serif" font-style="italic">π</text><path d="M373.50 261.2H380.50" stroke="#2a2a2a" stroke-width="0.9"/><text transform="translate(377.0,272.2) scale(0.86,1)" text-anchor="middle" font-size="11.7" font-family="Liberation Serif, serif" >2</text>
</svg>
</body></html>
